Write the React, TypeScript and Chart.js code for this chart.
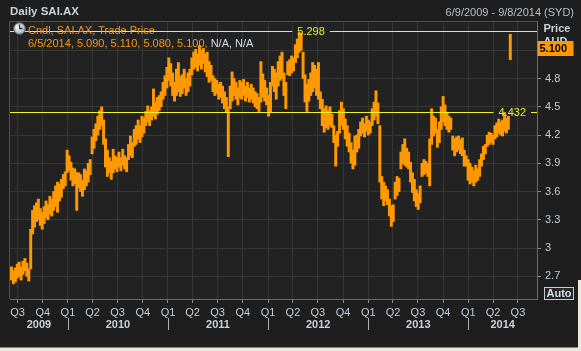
import React, { useEffect, useRef } from 'react';
import { Chart, registerables } from 'chart.js';

Chart.register(...registerables);

const FONT = '"Liberation Sans", Arial, sans-serif';

// Weekly candle envelopes (week i starts FIRST_DAY + 7*i days)
const FIRST_DAY = '2009-06-09';
const AXIS_END = '2014-09-08';

const WEEK_LOW = [
  2.66, 2.62, 2.64, 2.68, 2.70, 2.66, 2.72, 2.76, 2.70, 2.65,
  2.78, 3.15, 3.22, 3.28, 3.30, 3.24, 3.20, 3.26, 3.32, 3.30,
  3.36, 3.34, 3.40, 3.44, 3.38, 3.50, 3.54, 3.63, 3.66, 3.80,
  3.82, 3.72, 3.66, 3.68, 3.40, 3.64, 3.60, 3.55, 3.62, 3.66,
  3.70, 3.78, 4.00, 4.06, 4.14, 4.20, 4.26, 4.30, 4.10, 3.86,
  3.76, 3.80, 3.73, 3.80, 3.84, 3.81, 3.86, 3.82, 3.88, 3.84,
  3.81, 3.94, 3.98, 3.96, 4.08, 4.10, 4.16, 4.12, 4.18, 4.22,
  4.30, 4.34, 4.30, 4.36, 4.40, 4.37, 4.42, 4.46, 4.50, 4.58,
  4.62, 4.70, 4.78, 4.72, 4.62, 4.56, 4.62, 4.66, 4.61, 4.64,
  4.70, 4.62, 4.66, 4.72, 4.84, 4.90, 4.92, 4.88, 4.94, 4.90,
  4.96, 4.87, 4.82, 4.76, 4.78, 4.66, 4.62, 4.64, 4.58, 4.60,
  4.54, 4.48, 4.44, 3.97, 4.48, 4.56, 4.62, 4.58, 4.52, 4.60,
  4.58, 4.62, 4.56, 4.60, 4.55, 4.58, 4.54, 4.50, 4.48, 4.45,
  4.55, 4.60, 4.56, 4.52, 4.40, 4.44, 4.72, 4.66, 4.58, 4.72,
  4.78, 4.80, 4.62, 4.48, 4.84, 4.83, 4.86, 4.88, 4.97, 5.02,
  5.08, 5.10, 4.80, 4.55, 4.45, 4.56, 4.62, 4.66, 4.70, 4.62,
  4.58, 4.48, 4.30, 4.23, 4.28, 4.26, 4.30, 4.28, 4.12, 3.87,
  4.08, 4.22, 4.30, 4.26, 4.16, 4.08, 4.02, 3.90, 3.84, 3.88,
  4.02, 4.06, 4.19, 4.22, 4.18, 4.24, 4.20, 4.22, 4.30, 4.36,
  4.40, 4.32, 3.70, 3.52, 3.45, 3.50, 3.46, 3.34, 3.23, 3.28,
  3.52, 3.56, 3.60, 3.84, 3.90, 3.88, 3.86, 3.84, 3.70, 3.59,
  3.50, 3.44, 3.41, 3.48, 3.76, 3.78, 3.80, 3.76, 3.66, 4.10,
  4.19, 4.22, 4.07, 4.12, 4.26, 4.34, 4.30, 4.26, 4.23, 4.26,
  4.04, 3.98, 4.02, 4.04, 4.00, 3.98, 3.87, 3.87, 3.72, 3.68,
  3.70, 3.66, 3.70, 3.72, 3.76, 3.87, 3.94, 4.00, 4.08, 4.10,
  4.12, 4.10, 4.16, 4.18, 4.22, 4.20, 4.19, 4.24, 4.22, 4.26,
  5.00,
];

const WEEK_HIGH = [
  2.80, 2.76, 2.79, 2.83, 2.85, 2.80, 2.86, 2.89, 2.84, 2.78,
  3.20, 3.40, 3.45, 3.48, 3.52, 3.42, 3.38, 3.44, 3.50, 3.46,
  3.55, 3.52, 3.60, 3.66, 3.70, 3.68, 3.73, 3.78, 3.81, 4.04,
  3.98, 3.91, 3.85, 3.84, 3.80, 3.80, 3.78, 3.72, 3.84, 3.82,
  3.90, 3.94, 4.18, 4.26, 4.32, 4.40, 4.46, 4.50, 4.36, 4.16,
  4.04, 3.96, 3.92, 4.05, 3.98, 3.96, 4.02, 3.96, 4.05, 3.98,
  3.96, 4.10, 4.19, 4.12, 4.26, 4.30, 4.36, 4.30, 4.40, 4.38,
  4.45, 4.51, 4.46, 4.50, 4.69, 4.55, 4.60, 4.62, 4.66, 4.76,
  4.83, 4.92, 5.02, 4.96, 4.86, 4.76, 4.90, 4.97, 4.82, 4.84,
  4.90, 4.80, 4.86, 4.90, 5.02, 5.08, 5.11, 5.06, 5.15, 5.10,
  5.12, 5.06, 5.08, 4.98, 4.94, 4.83, 4.80, 4.78, 4.74, 4.76,
  4.72, 4.66, 4.60, 4.50, 4.72, 4.87, 4.80, 4.76, 4.70, 4.78,
  4.76, 4.79, 4.72, 4.76, 4.70, 4.74, 4.70, 4.66, 4.64, 4.60,
  4.98, 4.85, 4.78, 4.70, 4.62, 4.76, 4.93, 4.90, 4.86, 4.98,
  5.04, 5.08, 4.86, 4.76, 4.98, 5.00, 5.04, 5.02, 5.16, 5.22,
  5.29, 5.28, 5.08, 4.84, 4.74, 4.79, 4.86, 4.97, 4.94, 4.90,
  4.97, 4.66, 4.58, 4.48, 4.51, 4.46, 4.50, 4.42, 4.30, 4.20,
  4.24, 4.46, 4.55, 4.48, 4.37, 4.30, 4.22, 4.12, 4.04, 4.19,
  4.20, 4.26, 4.34, 4.38, 4.32, 4.40, 4.36, 4.34, 4.48, 4.55,
  4.67, 4.54, 4.30, 3.76, 3.70, 3.66, 3.62, 3.52, 3.45, 3.46,
  3.70, 3.76, 3.74, 4.02, 4.10, 4.16, 4.06, 4.02, 3.91, 3.80,
  3.73, 3.62, 3.58, 3.66, 3.90, 3.94, 3.92, 3.90, 4.16, 4.48,
  4.40, 4.38, 4.26, 4.34, 4.50, 4.61, 4.52, 4.44, 4.40, 4.38,
  4.19, 4.16, 4.18, 4.19, 4.15, 4.17, 4.04, 3.98, 3.94, 3.90,
  3.86, 3.82, 3.88, 3.84, 3.94, 4.00, 4.08, 4.10, 4.20, 4.23,
  4.22, 4.20, 4.30, 4.33, 4.37, 4.34, 4.36, 4.44, 4.38, 4.40,
  5.27,
];

const Y_TICKS = [2.7, 3, 3.3, 3.6, 3.9, 4.2, 4.5, 4.8, 5.1];
const QUARTER_DATES = [
  '2009-07-01', '2009-10-01', '2010-01-01', '2010-04-01', '2010-07-01', '2010-10-01',
  '2011-01-01', '2011-04-01', '2011-07-01', '2011-10-01', '2012-01-01', '2012-04-01',
  '2012-07-01', '2012-10-01', '2013-01-01', '2013-04-01', '2013-07-01', '2013-10-01',
  '2014-01-01', '2014-04-01', '2014-07-01',
];
const QUARTER_LABELS = [
  'Q3', 'Q4', 'Q1', 'Q2', 'Q3', 'Q4', 'Q1', 'Q2', 'Q3', 'Q4', 'Q1', 'Q2',
  'Q3', 'Q4', 'Q1', 'Q2', 'Q3', 'Q4', 'Q1', 'Q2', 'Q3',
];
const YEARS = ['2009', '2010', '2011', '2012', '2013', '2014'];

const HIGH_MARK = 5.298;
const REF_MARK = 4.432;
const LAST_CLOSE = 5.1;

const TITLE = 'Daily SAI.AX';
const RANGE_TEXT = '6/9/2009 - 9/8/2014 (SYD)';
const LEGEND_TITLE = 'Cndl, SAI.AX, Trade Price';
const LEGEND_VALUES = '6/5/2014, 5.090, 5.110, 5.080, 5.100, ';
const LEGEND_NA = 'N/A, N/A';

const DAY_MS = 86400000;
const dayOf = (s: string) => (Date.parse(s) - Date.parse(FIRST_DAY)) / DAY_MS;

const decor = {
  id: 'decor',
  beforeDraw(chart: any) {
    const { ctx, chartArea: a, width, height } = chart;
    ctx.save();
    ctx.fillStyle = '#1e1e1e';
    ctx.fillRect(0, 0, width, height);
    ctx.fillStyle = '#222222';
    ctx.fillRect(a.left, a.top, a.right - a.left, a.bottom - a.top);
    ctx.restore();
  },
  afterDraw(chart: any) {
    const { ctx, chartArea: a, width, height } = chart;
    const xs = chart.scales.x;
    const ys = chart.scales.y;
    ctx.save();

    // plot frame (top & left)
    ctx.strokeStyle = '#4e4e4e';
    ctx.lineWidth = 1;
    ctx.beginPath();
    ctx.moveTo(a.left - 0.5, a.bottom);
    ctx.lineTo(a.left - 0.5, a.top + 0.5);
    ctx.lineTo(a.right, a.top + 0.5);
    ctx.stroke();

    // yellow high line with label
    ctx.font = `11px ${FONT}`;
    ctx.textBaseline = 'middle';
    let maxI = 0;
    WEEK_HIGH.forEach((v, i) => { if (v > WEEK_HIGH[maxI]) maxI = i; });
    const hx = xs.getPixelForValue(maxI * 7);
    const hy = Math.round(ys.getPixelForValue(HIGH_MARK)) - 0.5;
    const hText = HIGH_MARK.toFixed(3);
    const hw = ctx.measureText(hText).width;
    const hLeft = hx - 2;
    ctx.strokeStyle = '#f2f224';
    ctx.beginPath();
    ctx.moveTo(a.left, hy); ctx.lineTo(hLeft - 5, hy);
    ctx.moveTo(hLeft + hw + 5, hy); ctx.lineTo(a.right, hy);
    ctx.stroke();
    ctx.fillStyle = '#e2ec3a';
    ctx.textAlign = 'left';
    ctx.fillText(hText, hLeft, hy + 0.5);

    // yellow reference line with label
    const ry = Math.round(ys.getPixelForValue(REF_MARK)) - 0.5;
    const rText = REF_MARK.toFixed(3);
    const rw = ctx.measureText(rText).width;
    const rRight = a.right - 11;
    ctx.beginPath();
    ctx.moveTo(a.left, ry); ctx.lineTo(rRight - rw - 5, ry);
    ctx.moveTo(rRight + 5, ry); ctx.lineTo(a.right, ry);
    ctx.stroke();
    ctx.textAlign = 'right';
    ctx.fillText(rText, rRight, ry + 0.5);

    // legend clock icon
    const g = ctx.createRadialGradient(18, 27, 1, 19.5, 28.5, 6);
    g.addColorStop(0, '#ffffff');
    g.addColorStop(1, '#9aa6b4');
    ctx.fillStyle = g;
    ctx.beginPath();
    ctx.arc(19.5, 28.5, 5.8, 0, Math.PI * 2);
    ctx.fill();
    ctx.strokeStyle = '#5d6874';
    ctx.stroke();
    ctx.strokeStyle = '#26303a';
    ctx.lineWidth = 1.3;
    ctx.beginPath();
    ctx.moveTo(19.5, 24.5); ctx.lineTo(19.5, 28.5); ctx.lineTo(22.5, 28.5);
    ctx.stroke();

    // legend text
    ctx.textAlign = 'left';
    ctx.font = `11px ${FONT}`;
    ctx.fillStyle = '#f29a1c';
    ctx.fillText(LEGEND_TITLE, 28, 30.5);
    ctx.fillText(LEGEND_VALUES, 28, 43.5);
    const vw = ctx.measureText(LEGEND_VALUES).width;
    ctx.fillStyle = '#d4dce4';
    ctx.fillText(LEGEND_NA, 28 + vw, 43.5);

    // header
    ctx.font = `bold 11.5px ${FONT}`;
    ctx.fillStyle = '#c9d1da';
    ctx.fillText(TITLE, 10, 11.5);
    ctx.font = `11px ${FONT}`;
    ctx.fillStyle = '#b7bfc8';
    ctx.textAlign = 'right';
    ctx.fillText(RANGE_TEXT, 574, 13);

    // axis title
    ctx.textAlign = 'left';
    ctx.font = `bold 11px ${FONT}`;
    ctx.fillStyle = '#c9d1da';
    ctx.fillText('Price', 543.5, 28.7);
    ctx.fillText('AUD', 543.5, 42);

    // last price box
    const ly = ys.getPixelForValue(LAST_CLOSE) - 2;
    ctx.fillStyle = '#ff9900';
    ctx.fillRect(a.right + 0.5, Math.round(ly - 7.5), 36, 15);
    ctx.fillStyle = '#000000';
    ctx.fillText(LAST_CLOSE.toFixed(3), 539.5, Math.round(ly - 7.5) + 8);

    // Auto button
    ctx.fillStyle = '#262626';
    ctx.fillRect(544.5, 287.5, 29, 12);
    ctx.strokeStyle = '#c4ccd4';
    ctx.lineWidth = 1;
    ctx.strokeRect(544.5, 287.5, 29, 12);
    ctx.fillStyle = '#d6dde5';
    ctx.textAlign = 'center';
    ctx.fillText('Auto', 559, 294);

    // year labels & separators
    const xMin = xs.min;
    const xMax = xs.max;
    YEARS.forEach((yr) => {
      const s = Math.max(dayOf(`${yr}-01-01`), xMin);
      const e = Math.min(dayOf(`${Number(yr) + 1}-01-01`), xMax);
      const cx = (xs.getPixelForValue(s) + xs.getPixelForValue(e)) / 2;
      ctx.fillStyle = '#c9d1da';
      ctx.fillText(yr, cx, 324.5);
      if (dayOf(`${yr}-01-01`) > xMin) {
        const px = Math.round(xs.getPixelForValue(dayOf(`${yr}-01-01`))) + 0.5;
        ctx.strokeStyle = '#a9b1ba';
        ctx.beginPath();
        ctx.moveTo(px, 318); ctx.lineTo(px, 330);
        ctx.stroke();
      }
    });

    // window frame strip
    ctx.fillStyle = '#ebe8dc';
    ctx.fillRect(0, height - 3.5, width, 3.5);
    ctx.fillRect(width - 3, 280, 3, height - 280);
    ctx.restore();
  },
};

export default function App() {
  const ref = useRef<HTMLCanvasElement | null>(null);
  useEffect(() => {
    if (!ref.current) return;
    const data = WEEK_LOW.map((lo, i) => ({ x: i * 7, y: [lo, WEEK_HIGH[i]] }));
    const tickFont = { family: FONT, size: 11 };
    const chart = new Chart(ref.current, {
      type: 'bar',
      data: {
        datasets: [
          {
            data: data as any,
            backgroundColor: '#ff9900',
            borderWidth: 0,
            barThickness: 2.3,
            grouped: false,
          } as any,
        ],
      },
      options: {
        animation: false,
        responsive: false,
        events: [],
        layout: { padding: { left: 10, top: 21, right: 0, bottom: 0 } },
        plugins: { legend: { display: false }, tooltip: { enabled: false } },
        scales: {
          x: {
            type: 'linear',
            offset: false,
            min: -5.5,
            max: dayOf(AXIS_END) + 0.5,
            afterBuildTicks: (s: any) => {
              s.ticks = QUARTER_DATES.map((d) => ({ value: dayOf(d) }));
            },
            afterFit: (s: any) => { s.height = 52; },
            grid: { offset: false, color: '#363636', tickColor: '#8c8c8c', tickLength: 4 },
            border: { color: '#6b6b6b' },
            ticks: {
              autoSkip: false,
              maxRotation: 0,
              color: '#c4ccd4',
              font: tickFont,
              padding: 3,
              callback: (_v: any, i: number) => QUARTER_LABELS[i],
            },
          },
          y: {
            type: 'linear',
            position: 'right',
            min: 2.459,
            max: 5.411,
            afterBuildTicks: (s: any) => {
              s.ticks = Y_TICKS.map((v) => ({ value: v }));
            },
            afterFit: (s: any) => { s.width = 44; },
            grid: { color: '#363636', tickColor: '#8c8c8c', tickLength: 4 },
            border: { color: '#6b6b6b' },
            ticks: {
              color: '#c4ccd4',
              font: tickFont,
              padding: 4,
              callback: (v: any) => String(Number(Number(v).toFixed(1))),
            },
          },
        },
      },
      plugins: [decor],
    });
    return () => chart.destroy();
  }, []);
  return (
    <div style={{ position: 'fixed', left: 0, top: 0, width: 581, height: 351, background: '#1e1e1e' }}>
      <canvas ref={ref} width={581} height={351} style={{ display: 'block' }} />
    </div>
  );
}
